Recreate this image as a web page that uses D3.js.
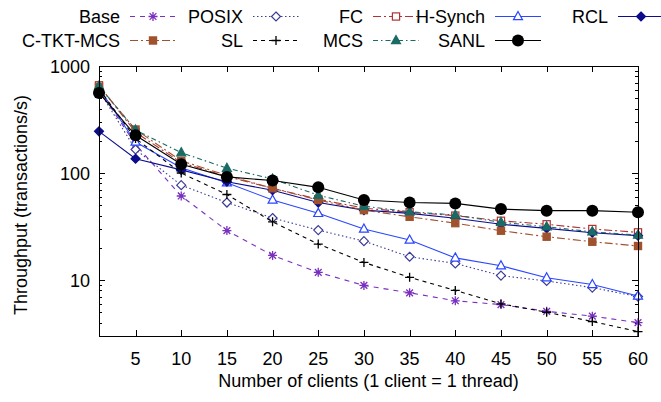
<!DOCTYPE html>
<html><head><meta charset="utf-8">
<script src="https://cdn.jsdelivr.net/npm/d3@7"></script>
<style>body{margin:0;background:#fff}svg{display:block}text{font-family:"Liberation Sans",Arial,sans-serif}</style>
</head><body>
<svg id="chart" width="661" height="402"></svg>
<script>
const clients = [1,5,10,15,20,25,30,35,40,45,50,55,60];
const seriesNames = ["Base","POSIX","FC","H-Synch","RCL","C-TKT-MCS","SL","MCS","SANL"];
const base    = [600,185,61,29,17,11.8,8.9,7.6,6.4,5.9,5.1,4.6,4.0];
const posix   = [590,166,77,53,38,29.3,23.1,16.5,14.3,11,9.8,8.5,7.0];
const fc      = [660,240,125,93,72,57,47,43,40,35.8,33.2,30,27.9];
const hsynch  = [620,195,112,81,56,42,30,23.7,16.1,13.6,10.5,9.1,7.1];
const rcl     = [245,136,107,83,69,53,45,42,37.8,33.2,30.4,27.7,26];
const ctktmcs = [640,255,130,95,72,56,45,39,34,28.9,25.4,22.8,20.8];
const sl      = [610,210,100,63,35,21.7,14.6,10.6,8.0,6.0,5.0,4.1,3.3];
const mcs     = [650,252,155,111,88,62,49,43.5,40.5,34.6,31.5,28.2,26.3];
const sanl    = [560,225,121,92,85,73.5,56,53,52,46,44.5,44.5,43];
const xTicks = [5,10,15,20,25,30,35,40,45,50,55,60];
const yTicks = [10,100,1000];

const styles = {
  "Base":      {data: base,    color:"#7a2fc0", dash:"5,5",        marker:"star"},
  "POSIX":     {data: posix,   color:"#3c3c96", dash:"1.5,2.5",    marker:"diamondOpen"},
  "FC":        {data: fc,      color:"#b03232", dash:"8,3,2,3",    marker:"squareOpen"},
  "H-Synch":   {data: hsynch,  color:"#2a46ff", dash:null,         marker:"triOpen"},
  "RCL":       {data: rcl,     color:"#0c0c8c", dash:null,         marker:"diamond"},
  "C-TKT-MCS": {data: ctktmcs, color:"#a0522d", dash:"8,3,2,3",    marker:"square"},
  "SL":        {data: sl,      color:"#000000", dash:"4,4",        marker:"plus"},
  "MCS":       {data: mcs,     color:"#1a6a66", dash:"5,3,1.5,3",  marker:"tri"},
  "SANL":      {data: sanl,    color:"#000000", dash:null,         marker:"circle"}
};

const svg = d3.select("#chart");
const L = 99, R = 638, T = 66, B = 336;
const x = d3.scaleLinear().domain([1,60]).range([L,R]);
const y = d3.scaleLog().domain([3,1000]).range([B,T]);

// ticks
const minor = [];
[1,10,100].forEach(d => { for (let k=2;k<=9;k++){ const v=d*k; if (v>=3 && v<1000) minor.push(v);} });
const axG = svg.append("g").attr("stroke","#000").attr("stroke-width",1);
xTicks.forEach(t => {
  const px = Math.round(x(t))+0.5;
  axG.append("line").attr("x1",px).attr("x2",px).attr("y1",B).attr("y2",B-6);
  axG.append("line").attr("x1",px).attr("x2",px).attr("y1",T).attr("y2",T+6);
});
yTicks.forEach(t => {
  const py = Math.round(y(t))+0.5;
  axG.append("line").attr("x1",L).attr("x2",L+6).attr("y1",py).attr("y2",py);
  axG.append("line").attr("x1",R).attr("x2",R-6).attr("y1",py).attr("y2",py);
});
minor.forEach(t => {
  const py = Math.round(y(t))+0.5;
  axG.append("line").attr("x1",L).attr("x2",L+3).attr("y1",py).attr("y2",py);
  axG.append("line").attr("x1",R).attr("x2",R-3).attr("y1",py).attr("y2",py);
});

// tick labels
svg.append("g").selectAll("text").data(xTicks).join("text")
  .attr("x", d => x(d)).attr("y", 365).attr("text-anchor","middle")
  .attr("font-size",18).attr("fill","#000").text(d => d);
svg.append("g").selectAll("text").data(yTicks).join("text")
  .attr("x", 90).attr("y", d => y(d)+6.5).attr("text-anchor","end")
  .attr("font-size",18).attr("fill","#000").text(d => d);

// axis titles
svg.append("text").attr("x",(L+R)/2).attr("y",387).attr("text-anchor","middle")
  .attr("font-size",18).text("Number of clients (1 client = 1 thread)");
svg.append("text").attr("transform","translate(27,205) rotate(-90)")
  .attr("text-anchor","middle").attr("font-size",18).text("Throughput (transactions/s)");

function drawMarker(g, type, cx, cy, color){
  const s = 4.5;
  switch(type){
    case "star":
      g.append("path").attr("d",`M${cx-s},${cy}H${cx+s}M${cx},${cy-s}V${cy+s}M${cx-s*0.75},${cy-s*0.75}L${cx+s*0.75},${cy+s*0.75}M${cx-s*0.75},${cy+s*0.75}L${cx+s*0.75},${cy-s*0.75}`)
        .attr("stroke",color).attr("stroke-width",1.3).attr("fill","none"); break;
    case "plus":
      g.append("path").attr("d",`M${cx-s},${cy}H${cx+s}M${cx},${cy-s}V${cy+s}`)
        .attr("stroke",color).attr("stroke-width",1.3).attr("fill","none"); break;
    case "diamondOpen":
    case "diamond":
      g.append("path").attr("d",`M${cx},${cy-s}L${cx+s},${cy}L${cx},${cy+s}L${cx-s},${cy}Z`)
        .attr("stroke",color).attr("stroke-width",1.2).attr("fill", type==="diamond"?color:"#fff"); break;
    case "squareOpen":
    case "square":
      g.append("rect").attr("x",cx-3.6).attr("y",cy-3.6).attr("width",7.2).attr("height",7.2)
        .attr("stroke",color).attr("stroke-width",1.2).attr("fill", type==="square"?color:"#fff"); break;
    case "triOpen":
    case "tri":
      g.append("path").attr("d",`M${cx},${cy-s-0.5}L${cx+s},${cy+s*0.7}L${cx-s},${cy+s*0.7}Z`)
        .attr("stroke",color).attr("stroke-width",1.2).attr("fill", type==="tri"?color:"#fff"); break;
    case "circle":
      g.append("circle").attr("cx",cx).attr("cy",cy).attr("r",6).attr("fill",color); break;
  }
}

const line = d3.line().x((d,i) => x(clients[i])).y(d => y(d));
seriesNames.forEach(name => {
  const st = styles[name];
  const g = svg.append("g");
  g.append("path").attr("d", line(st.data)).attr("fill","none")
    .attr("stroke", st.color).attr("stroke-width",1.1)
    .attr("stroke-dasharray", st.dash);
  st.data.forEach((v,i) => drawMarker(g, st.marker, x(clients[i]), y(v), st.color));
});

// frame
svg.append("rect").attr("x",L+0.5).attr("y",T+0.5).attr("width",R-L).attr("height",B-T)
  .attr("fill","none").attr("stroke","#000").attr("stroke-width",1);

// legend
const legendRight = [120,243,363,485,608];
const legendRows = [23,47];
seriesNames.forEach((name,i) => {
  const st = styles[name];
  const col = i<5 ? i : i-5, row = i<5 ? 0 : 1;
  const tx = legendRight[col], ty = legendRows[row];
  const g = svg.append("g");
  g.append("text").attr("x",tx).attr("y",ty).attr("text-anchor","end").attr("font-size",18).text(name);
  const cy = ty-6.5;
  g.append("line").attr("x1",tx+10).attr("x2",tx+56).attr("y1",cy).attr("y2",cy)
    .attr("stroke",st.color).attr("stroke-width",1.1).attr("stroke-dasharray",st.dash);
  drawMarker(g, st.marker, tx+33, cy, st.color);
});
</script>
</body></html>
